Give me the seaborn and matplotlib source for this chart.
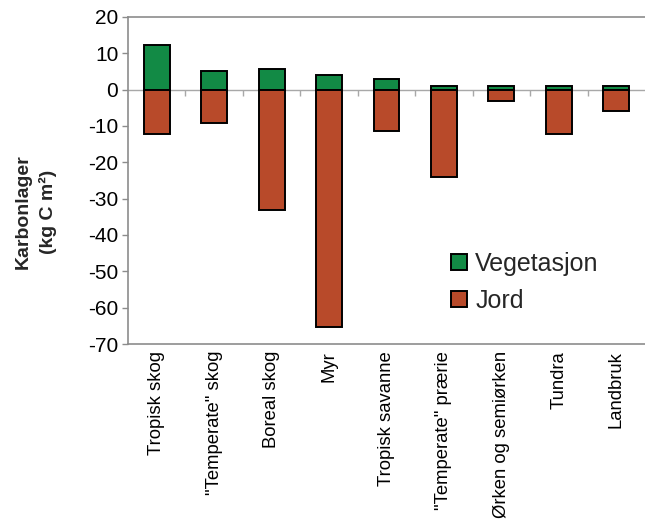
import matplotlib
matplotlib.use("Agg")
import matplotlib.pyplot as plt
from matplotlib.patches import Patch
import seaborn as sns
import pandas as pd
import numpy as np

categories = ["Tropisk skog", "\"Temperate\" skog", "Boreal skog", "Myr",
              "Tropisk savanne", "\"Temperate\" prærie", "Ørken og semiørken",
              "Tundra", "Landbruk"]
vegetasjon = [12.3, 5.0, 5.8, 3.9, 2.9, 1.0, 1.0, 1.0, 1.0]
jord = [-12.3, -9.3, -33.2, -65.4, -11.3, -23.9, -3.0, -12.3, -6.0]
series_names = ["Vegetasjon", "Jord"]
colors = {"Vegetasjon": "#128A45", "Jord": "#B84A2A"}
yticks = list(range(-70, 21, 10))

df = pd.DataFrame({
    "kategori": categories * 2,
    "type": [series_names[0]] * len(categories) + [series_names[1]] * len(categories),
    "verdi": vegetasjon + jord,
})

sns.set_style("white")
plt.rcParams["font.family"] = ["Liberation Sans", "DejaVu Sans"]
plt.rcParams["axes.unicode_minus"] = False

fig = plt.figure(figsize=(6.45, 5.28), dpi=100)
ax = fig.add_axes([128 / 645, (528 - 344) / 528, 517 / 645, 327 / 528])

sns.barplot(data=df, x="kategori", y="verdi", hue="type", order=categories,
            hue_order=series_names, palette=colors, dodge=False, width=0.45,
            edgecolor="black", linewidth=1.4, errorbar=None, legend=False,
            saturation=1, ax=ax, zorder=3)

ax.set_xlim(-0.5, len(categories) - 0.5)
ax.set_ylim(-70, 20)
ax.set_yticks(yticks)
ax.set_xlabel("")
ax.set_ylabel("Karbonlager\n(kg C m²)", fontsize=14, fontweight="bold",
              multialignment="center", linespacing=1.55)
ax.yaxis.set_label_coords(-0.137, 0.404)

spine_col = "#8c8c8c"
for s in ["left", "top", "bottom"]:
    ax.spines[s].set_color(spine_col)
    ax.spines[s].set_linewidth(1.2)
ax.spines["right"].set_visible(False)

ax.tick_params(axis="y", direction="out", length=4, width=1.0, color=spine_col,
               labelsize=15, labelcolor="black", pad=3, left=True)
ax.tick_params(axis="x", length=0, labelsize=13.3, labelcolor="black", pad=5,
               rotation=90)
for lab in ax.get_xticklabels():
    lab.set_va("top")
    lab.set_ha("center")

# zero line with tick marks between categories
zero_col = "#a8a8a8"
ax.axhline(0, color=zero_col, linewidth=1.0, zorder=1)
sec = ax.secondary_xaxis(0, transform=ax.transData)
sec.spines["bottom"].set_visible(False)
sec.set_xticks(np.arange(0.5, len(categories) - 0.5, 1.0))
sec.tick_params(axis="x", direction="out", length=4, width=1.0, color=zero_col,
                labelbottom=False)

handles = [Patch(facecolor=colors[n], edgecolor="black", linewidth=1.4) for n in series_names]
ax.legend(handles, series_names, loc="upper left", bbox_to_anchor=(0.625, 0.282),
          frameon=False, fontsize=18, handlelength=0.62, handleheight=0.62,
          handletextpad=0.34, labelspacing=0.52, borderpad=0, borderaxespad=0)

fig.savefig("out.png", dpi=100)
